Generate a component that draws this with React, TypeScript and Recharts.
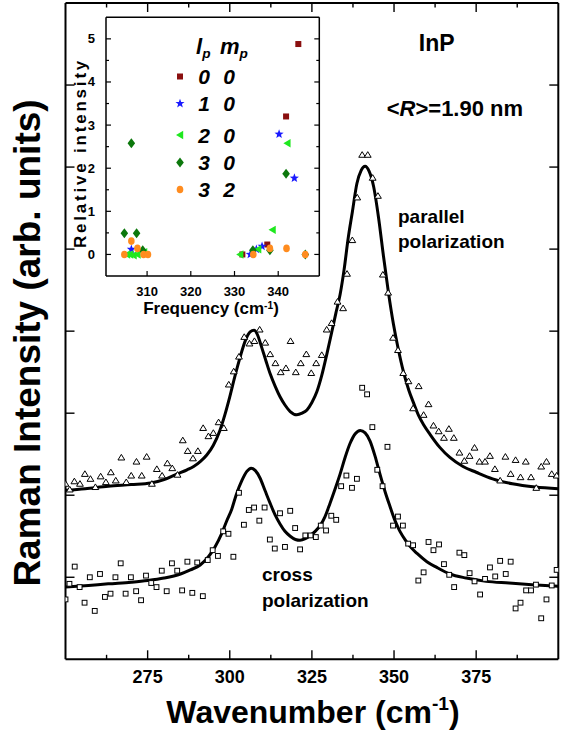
import React from 'react';
import { ComposedChart, Line, Scatter, XAxis, YAxis } from 'recharts';

const SANS = '"Liberation Sans", Arial, Helvetica, sans-serif';
const NARROW = '"Liberation Sans Narrow", "Arial Narrow", "Liberation Sans", sans-serif';

// ---- main panel: Raman spectra of InP dots ----
const waveTicks = [262.5, 275, 287.5, 300, 312.5, 325, 337.5, 350, 362.5, 375, 387.5];
const waveLabels = [275, 300, 325, 350, 375];
const intensityTicks = [1, 2, 3, 4, 5, 6, 7];

// parallel polarization, measured (triangles)
const parallelX = [
  250.0, 251.3, 252.7, 254.4, 255.9, 257.6, 259.1, 260.7, 262.3, 263.8, 265.3, 267.0, 268.5, 270.0, 271.6,
  273.2, 274.7, 276.3, 277.8, 279.4, 281.0, 282.5, 284.1, 285.7, 287.2, 288.8, 290.3, 291.9, 293.5, 295.0,
  296.6, 298.2, 299.7, 301.2, 302.8, 304.4, 306.0, 307.5, 309.1, 310.8, 312.3, 313.9, 315.5, 317.1, 318.5,
  320.1, 321.6, 323.3, 324.8, 326.3, 328.0, 329.5, 331.0, 332.8, 334.5, 335.7, 337.3, 338.8, 340.3, 342.0,
  343.5, 345.1, 346.6, 348.2, 349.7, 351.2, 352.8, 354.4, 355.8, 357.5, 359.0, 360.5, 362.0, 363.6, 365.2,
  366.7, 368.2, 369.9, 371.4, 373.0, 374.5, 376.0, 377.7, 379.2, 380.7, 382.3, 383.9, 385.5, 387.0, 388.5,
  390.1, 391.7, 393.3, 394.8, 396.4, 398.0, 399.5,
];
const parallelY = [
  2.14, 2.07, 2.17, 2.14, 2.26, 2.2, 2.1, 2.23, 2.16, 2.28, 2.18, 2.46, 2.16, 2.24, 2.41,
  2.24, 2.47, 2.14, 2.32, 2.24, 2.39, 2.33, 2.25, 2.67, 2.54, 2.45, 2.54, 2.82, 2.72, 2.76,
  2.89, 2.82, 3.35, 3.51, 3.69, 3.93, 3.85, 3.88, 4.02, 3.86, 3.72, 3.61, 3.5, 3.55, 3.88,
  3.5, 3.61, 3.72, 3.49, 3.61, 3.71, 4.02, 4.1, 4.36, 4.28, 4.7, 5.11, 5.63, 6.15, 6.15,
  5.87, 5.65, 4.69, 4.47, 3.92, 3.77, 3.49, 3.39, 3.06, 3.33, 2.98, 3.11, 2.85, 2.78, 2.7,
  2.81, 2.7, 2.52, 2.42, 2.48, 2.58, 2.41, 2.41, 2.48, 2.32, 2.18, 2.47, 2.26, 2.43, 2.22,
  2.41, 2.22, 2.09, 2.35, 2.41, 2.26, 2.24,
];

// parallel polarization, fit
const parallelFitX = [
  250, 256, 263, 270, 276, 280, 284, 287, 289, 291, 293, 295, 297, 298.5, 300, 301.5, 303.2, 304.8, 306.2,
  307.4, 308.5, 309.5, 311, 312.3, 313.8, 315.3, 316.8, 318.4, 320.4, 322, 323.5, 325, 326.5, 328, 329.6,
  331, 332.3, 333.6, 334.8, 336, 337.3, 338.7, 340, 341.2, 342.4, 343.8, 345.3, 346.8, 348.3, 349.8, 351.3,
  352.9, 354.5, 356, 357.5, 359, 361, 364, 367, 371, 375, 380, 386, 393, 400,
];
const parallelFitY = [
  2.06, 2.08, 2.11, 2.13, 2.15, 2.19, 2.26, 2.31, 2.35, 2.41, 2.49, 2.61, 2.79, 2.98, 3.2, 3.44, 3.69, 3.89, 3.99,
  4.01, 3.95, 3.83, 3.64, 3.48, 3.33, 3.2, 3.1, 3.02, 2.98, 3.0, 3.04, 3.13, 3.26, 3.46, 3.73,
  3.98, 4.22, 4.45, 4.75, 5.12, 5.45, 5.8, 5.96, 6.01, 5.95, 5.76, 5.38, 4.91, 4.47, 4.09, 3.78,
  3.5, 3.28, 3.12, 2.97, 2.86, 2.74, 2.58, 2.46, 2.35, 2.28, 2.2, 2.14, 2.1, 2.08,
];

// cross polarization, measured (squares)
const crossX = [
  250.0, 251.2, 252.8, 254.3, 255.8, 257.4, 258.9, 260.5, 262.0, 263.7, 265.2, 266.8, 268.3, 269.9, 271.5,
  273.0, 274.5, 276.1, 277.7, 279.3, 280.8, 282.4, 284.0, 285.5, 287.1, 288.6, 290.1, 291.8, 293.3, 294.8,
  296.4, 298.0, 299.6, 301.1, 302.8, 304.3, 305.8, 307.4, 309.0, 310.6, 312.2, 313.7, 315.3, 316.8, 318.4,
  319.9, 321.4, 323.0, 324.6, 326.2, 327.7, 329.3, 330.9, 332.4, 333.9, 335.5, 337.2, 338.7, 340.3, 341.8,
  343.4, 344.9, 346.5, 348.0, 349.7, 351.2, 352.7, 354.3, 355.8, 357.4, 359.0, 360.5, 362.0, 363.7, 365.2,
  366.8, 368.3, 369.9, 371.4, 373.0, 374.5, 376.2, 377.7, 379.2, 380.8, 382.3, 384.0, 385.5, 387.0, 388.5,
  390.2, 391.7, 393.2, 394.8, 396.4, 398.0, 399.5,
];
const crossY = [
  0.73, 0.92, 1.13, 0.88, 0.69, 1.0, 0.59, 1.04, 0.76, 0.8, 1.0, 1.17, 0.8, 1.0, 0.83,
  0.72, 1.02, 0.93, 0.88, 1.08, 0.83, 1.17, 1.08, 0.84, 1.19, 0.81, 1.18, 0.77, 1.21, 1.33,
  1.26, 1.56, 1.53, 1.25, 2.03, 1.64, 1.82, 1.85, 1.69, 1.85, 1.46, 1.35, 1.78, 1.37, 1.81,
  1.6, 1.34, 1.51, 1.51, 1.49, 1.63, 1.57, 1.75, 1.7, 2.11, 2.24, 2.09, 2.2, 3.31, 3.23,
  2.83, 2.31, 2.11, 2.59, 1.63, 1.74, 1.63, 1.41, 1.39, 0.96, 1.06, 1.43, 1.33, 1.4, 1.16,
  1.03, 0.88, 1.3, 1.27, 1.05, 0.95, 0.79, 0.98, 1.12, 1.01, 1.2, 1.04, 1.19, 0.62, 0.69,
  0.84, 0.84, 0.91, 0.5, 0.73, 0.9, 1.09,
];

// cross polarization, fit
const crossFitX = [
  250, 257, 263, 270, 275, 280, 285, 288, 291, 293.5, 295.5, 297.5, 299, 300.6, 302, 303.7, 305.2, 306.5,
  307.8, 309.2, 310.7, 312.3, 313.8, 315.3, 316.8, 318.4, 320, 321.4, 323, 324.5, 326, 327.5, 329, 330.5,
  332, 333.6, 335.1, 336.6, 338.2, 339.7, 341.2, 342.7, 344.2, 345.7, 347.3, 348.8, 350.3, 351.8, 353.5,
  355, 357, 360, 363, 367, 372, 378, 385, 392, 400,
];
const crossFitY = [
  0.88, 0.9, 0.92, 0.94, 0.96, 0.99, 1.04, 1.09, 1.15, 1.25, 1.37, 1.53, 1.68, 1.83, 2.01, 2.18, 2.29, 2.33,
  2.3, 2.21, 2.06, 1.9, 1.76, 1.65, 1.56, 1.5, 1.46, 1.45, 1.47, 1.51, 1.56, 1.63, 1.74, 1.9,
  2.07, 2.26, 2.46, 2.63, 2.75, 2.79, 2.76, 2.66, 2.48, 2.26, 2.04, 1.86, 1.69, 1.56, 1.45,
  1.37, 1.29, 1.19, 1.12, 1.04, 0.99, 0.95, 0.93, 0.91, 0.89,
];

// ---- inset: relative intensity of confined modes ----
const freqTicks = [310, 320, 330, 340];
const relTicks = [0, 0.5, 1, 1.5, 2, 2.5, 3, 3.5, 4, 4.5, 5];
const relLabels = [0, 1, 2, 3, 4, 5];

const mode00X = [331.8, 337.5, 341.8, 344.6];
const mode00Y = [0, 0.23, 3.2, 4.88];
const mode10X = [306.4, 333.6, 335.0, 336.3, 340.2, 343.7];
const mode10Y = [0.12, 0, 0.12, 0.19, 2.79, 1.77];
const mode20X = [305.4, 306.1, 306.9, 307.8, 309.3, 331.3, 335.4, 338.7, 342.1];
const mode20Y = [0, 0, -0.02, 0, 0.05, 0, 0.12, 0.57, 2.58];
const mode30X = [304.8, 306.4, 307.6, 309.0, 334.2, 338.1, 341.8, 346.2];
const mode30Y = [0.49, 2.58, 0.49, 0.1, 0.1, 0.1, 1.87, 0];
const mode32X = [304.8, 306.4, 307.8, 309.2, 310.2, 334.3, 338.1, 341.9, 346.2];
const mode32Y = [0, 0.31, 0.14, 0, 0, 0, 0.14, 0.14, 0];

const modeRows = [
  { l: '0', m: '0', mark: 'square' },
  { l: '1', m: '0', mark: 'star' },
  { l: '2', m: '0', mark: 'triangle' },
  { l: '3', m: '0', mark: 'diamond' },
  { l: '3', m: '2', mark: 'circle' },
];
const modeRowY = [76.5, 103.5, 135, 162.5, 189.5];

const toPoints = (xs: number[], ys: number[]) => xs.map((x, i) => ({ x, y: ys[i] }));

const DARK_RED = '#8a0f0f';
const BLUE = '#1a1aff';
const LIME = '#1fe81f';
const DARK_GREEN = '#0c780c';
const ORANGE = '#ff8c1f';

function starPath(cx: number, cy: number, ro: number, ri: number) {
  let d = '';
  for (let k = 0; k < 10; k++) {
    const r = k % 2 === 0 ? ro : ri;
    const a = -Math.PI / 2 + (k * Math.PI) / 5;
    d += `${k === 0 ? 'M' : 'L'}${(cx + r * Math.cos(a)).toFixed(2)},${(cy + r * Math.sin(a)).toFixed(2)}`;
  }
  return d + 'Z';
}

const marks: Record<string, (cx: number, cy: number) => React.ReactElement> = {
  square: (cx, cy) => <rect x={cx - 3} y={cy - 3} width={6} height={6} fill={DARK_RED} />,
  star: (cx, cy) => <path d={starPath(cx, cy, 4.8, 2)} fill={BLUE} />,
  triangle: (cx, cy) => <path d={`M${cx - 4},${cy}L${cx + 3.2},${cy - 4.2}L${cx + 3.2},${cy + 4.2}Z`} fill={LIME} />,
  diamond: (cx, cy) => <path d={`M${cx},${cy - 5}L${cx + 3.8},${cy}L${cx},${cy + 5}L${cx - 3.8},${cy}Z`} fill={DARK_GREEN} />,
  circle: (cx, cy) => <ellipse cx={cx} cy={cy} rx={3.3} ry={3.8} fill={ORANGE} />,
};

const OpenTriangle = (p: any) => (
  <path
    d={`M${p.cx},${p.cy - 3.1}L${p.cx + 3.4},${p.cy + 2.5}L${p.cx - 3.4},${p.cy + 2.5}Z`}
    fill="#fff"
    stroke="#000"
    strokeWidth={1}
  />
);
const OpenSquare = (p: any) => (
  <rect x={p.cx - 2.4} y={p.cy - 2.4} width={4.8} height={4.8} fill="#fff" stroke="#000" strokeWidth={1} />
);

const frame = { stroke: '#000', strokeWidth: 2 };

// tick renderers: tickSize/tickMargin are 0, so x/y is the axis line itself
const BottomTick = (p: any) => {
  const major = waveLabels.includes(p.payload.value);
  return (
    <g>
      <line x1={p.x} x2={p.x} y1={p.y} y2={p.y - (major ? 9 : 4.5)} stroke="#000" strokeWidth={1.4} />
      {major && (
        <text x={p.x} y={p.y + 24} textAnchor="middle" fontFamily={SANS} fontWeight={700} fontSize={18} fill="#000">
          {p.payload.value}
        </text>
      )}
    </g>
  );
};
const TopTick = (p: any) => {
  const major = waveLabels.includes(p.payload.value);
  return <line x1={p.x} x2={p.x} y1={p.y} y2={p.y + (major ? 9 : 4.5)} stroke="#000" strokeWidth={1.4} />;
};
const LeftTick = (p: any) => <line x1={p.x} x2={p.x + 9} y1={p.y} y2={p.y} stroke="#000" strokeWidth={1.4} />;
const RightTick = (p: any) => <line x1={p.x} x2={p.x - 9} y1={p.y} y2={p.y} stroke="#000" strokeWidth={1.4} />;

const InsetBottomTick = (p: any) => (
  <g>
    <line x1={p.x} x2={p.x} y1={p.y} y2={p.y - 5} stroke="#000" strokeWidth={1.2} />
    <text x={p.x} y={p.y + 20} textAnchor="middle" fontFamily={NARROW} fontWeight={700} fontSize={13} fill="#000">
      {p.payload.value}
    </text>
  </g>
);
const InsetLeftTick = (p: any) => {
  const major = relLabels.includes(p.payload.value);
  return (
    <g>
      <line x1={p.x} x2={p.x + (major ? 5 : 3)} y1={p.y} y2={p.y} stroke="#000" strokeWidth={1.2} />
      {major && (
        <text x={p.x - 11} y={p.y + 4.5} textAnchor="end" fontFamily={NARROW} fontWeight={700} fontSize={13} fill="#000">
          {p.payload.value}
        </text>
      )}
    </g>
  );
};
const InsetRightTick = (p: any) => {
  const major = relLabels.includes(p.payload.value);
  return <line x1={p.x} x2={p.x - (major ? 5 : 3)} y1={p.y} y2={p.y} stroke="#000" strokeWidth={1.2} />;
};

function Txt(props: {
  x: number;
  base: number;
  size: number;
  anchor?: 'start' | 'middle';
  family?: string;
  italic?: boolean;
  children: React.ReactNode;
}) {
  const { x, base, size, anchor = 'start', family = SANS, italic, children } = props;
  return (
    <div
      style={{
        position: 'absolute',
        left: x,
        top: base - 0.8465 * size,
        fontSize: size,
        lineHeight: `${size}px`,
        fontFamily: family,
        fontWeight: 700,
        fontStyle: italic ? 'italic' : 'normal',
        whiteSpace: 'nowrap',
        color: '#000',
        transform: anchor === 'middle' ? 'translateX(-50%)' : undefined,
      }}
    >
      {children}
    </div>
  );
}

const sup = { fontSize: '0.6em', position: 'relative' as const, top: '-0.65em' };
const supLow = { fontSize: '0.6em', position: 'relative' as const, top: '-0.5em' };
const sub = { fontSize: '0.62em', position: 'relative' as const, top: '0.3em' };

export default function App() {
  const parallel = toPoints(parallelX, parallelY);
  const parallelFit = toPoints(parallelFitX, parallelFitY);
  const cross = toPoints(crossX, crossY);
  const crossFit = toPoints(crossFitX, crossFitY);

  return (
    <div style={{ position: 'absolute', left: 0, top: 0, width: 567, height: 733, background: '#fff' }}>
      <div style={{ position: 'absolute', left: 0, top: 0 }}>
        <ComposedChart width={567} height={733} margin={{ top: 2, right: 7.7, bottom: 13, left: 64.5 }}>
          <XAxis
            xAxisId="b"
            dataKey="x"
            type="number"
            domain={[250, 400]}
            allowDataOverflow
            ticks={waveTicks}
            interval={0}
            height={60.7}
            tickSize={0}
            tickMargin={0}
            tickLine={false}
            axisLine={frame}
            tick={BottomTick}
          />
          <XAxis
            xAxisId="t"
            orientation="top"
            dataKey="x"
            type="number"
            domain={[250, 400]}
            allowDataOverflow
            ticks={waveTicks}
            interval={0}
            height={1}
            tickSize={0}
            tickMargin={0}
            tickLine={false}
            axisLine={frame}
            tick={TopTick}
          />
          <YAxis
            yAxisId="l"
            dataKey="y"
            type="number"
            domain={[0, 8]}
            allowDataOverflow
            ticks={intensityTicks}
            interval={0}
            width={1}
            tickSize={0}
            tickMargin={0}
            tickLine={false}
            axisLine={frame}
            tick={LeftTick}
          />
          <YAxis
            yAxisId="r"
            orientation="right"
            dataKey="y"
            type="number"
            domain={[0, 8]}
            allowDataOverflow
            ticks={intensityTicks}
            interval={0}
            width={1}
            tickSize={0}
            tickMargin={0}
            tickLine={false}
            axisLine={frame}
            tick={RightTick}
          />
          <Line xAxisId="b" yAxisId="l" data={parallelFit} dataKey="y" type="monotone" stroke="#000" strokeWidth={3} dot={false} activeDot={false} isAnimationActive={false} />
          <Line xAxisId="b" yAxisId="l" data={crossFit} dataKey="y" type="monotone" stroke="#000" strokeWidth={3} dot={false} activeDot={false} isAnimationActive={false} />
          <Scatter xAxisId="b" yAxisId="l" data={parallel} dataKey="y" shape={OpenTriangle} isAnimationActive={false} />
          <Scatter xAxisId="b" yAxisId="l" data={cross} dataKey="y" shape={OpenSquare} isAnimationActive={false} />
          {/* keep top/right axes bound to the same scales */}
          <Scatter xAxisId="t" yAxisId="r" data={[]} dataKey="y" isAnimationActive={false} />
        </ComposedChart>
      </div>

      <div style={{ position: 'absolute', left: 0, top: 0 }}>
        <ComposedChart width={330} height={320} margin={{ top: 16.3, right: 9.7, bottom: 43, left: 105 }}>
          <XAxis
            xAxisId="b"
            dataKey="x"
            type="number"
            domain={[300.6, 349.4]}
            allowDataOverflow
            ticks={freqTicks}
            interval={0}
            height={1}
            tickSize={0}
            tickMargin={0}
            tickLine={false}
            axisLine={{ stroke: '#000', strokeWidth: 1.5 }}
            tick={InsetBottomTick}
          />
          <XAxis
            xAxisId="t"
            orientation="top"
            dataKey="x"
            type="number"
            domain={[300.6, 349.4]}
            allowDataOverflow
            ticks={freqTicks}
            height={1}
            tickLine={false}
            tick={false}
            axisLine={{ stroke: '#000', strokeWidth: 1.5 }}
          />
          <YAxis
            yAxisId="l"
            dataKey="y"
            type="number"
            domain={[-0.5, 5.5]}
            allowDataOverflow
            ticks={relTicks}
            interval={0}
            width={1}
            tickSize={0}
            tickMargin={0}
            tickLine={false}
            axisLine={{ stroke: '#000', strokeWidth: 1.5 }}
            tick={InsetLeftTick}
          />
          <YAxis
            yAxisId="r"
            orientation="right"
            dataKey="y"
            type="number"
            domain={[-0.5, 5.5]}
            allowDataOverflow
            ticks={relTicks}
            interval={0}
            width={1}
            tickSize={0}
            tickMargin={0}
            tickLine={false}
            axisLine={{ stroke: '#000', strokeWidth: 1.5 }}
            tick={InsetRightTick}
          />
          <Scatter xAxisId="b" yAxisId="l" data={toPoints(mode00X, mode00Y)} dataKey="y" shape={(p: any) => marks.square(p.cx, p.cy)} isAnimationActive={false} />
          <Scatter xAxisId="b" yAxisId="l" data={toPoints(mode10X, mode10Y)} dataKey="y" shape={(p: any) => marks.star(p.cx, p.cy)} isAnimationActive={false} />
          <Scatter xAxisId="b" yAxisId="l" data={toPoints(mode20X, mode20Y)} dataKey="y" shape={(p: any) => marks.triangle(p.cx, p.cy)} isAnimationActive={false} />
          <Scatter xAxisId="b" yAxisId="l" data={toPoints(mode30X, mode30Y)} dataKey="y" shape={(p: any) => marks.diamond(p.cx, p.cy)} isAnimationActive={false} />
          <Scatter xAxisId="b" yAxisId="l" data={toPoints(mode32X, mode32Y)} dataKey="y" shape={(p: any) => marks.circle(p.cx, p.cy)} isAnimationActive={false} />
          <Scatter xAxisId="t" yAxisId="r" data={[]} dataKey="y" isAnimationActive={false} />
        </ComposedChart>
      </div>

      {/* inset legend markers */}
      <svg width={567} height={733} style={{ position: 'absolute', left: 0, top: 0, pointerEvents: 'none' }}>
        {modeRows.map((r, i) => (
          <g key={i}>{marks[r.mark](180, modeRowY[i])}</g>
        ))}
      </svg>

      {/* main panel text */}
      <div
        style={{
          position: 'absolute',
          left: 27,
          top: 343,
          transform: 'translate(-50%, -50%) rotate(-90deg)',
          fontFamily: SANS,
          fontWeight: 700,
          fontSize: 37,
          lineHeight: '37px',
          whiteSpace: 'nowrap',
        }}
      >
        Raman Intensity (arb. units)
      </div>
      <Txt x={313} base={722.7} size={32} anchor="middle">
        Wavenumber (cm<span style={sup}>-1</span>)
      </Txt>
      <Txt x={436.7} base={51.7} size={23} anchor="middle">InP</Txt>
      <Txt x={386.7} base={116.7} size={22}>
        &lt;<i>R</i>&gt;=1.90 nm
      </Txt>
      <Txt x={398} base={223.3} size={19}>parallel</Txt>
      <Txt x={398} base={248.3} size={19}>polarization</Txt>
      <Txt x={262} base={581.5} size={19}>cross</Txt>
      <Txt x={262} base={606.7} size={19}>polarization</Txt>

      {/* inset text */}
      <div
        style={{
          position: 'absolute',
          left: 80,
          top: 153,
          transform: 'translate(-50%, -50%) rotate(-90deg)',
          fontFamily: NARROW,
          fontWeight: 700,
          fontSize: 17,
          lineHeight: '17px',
          letterSpacing: 2.8,
          whiteSpace: 'nowrap',
        }}
      >
        Relative intensity
      </div>
      <Txt x={211} base={314} size={17} anchor="middle" family={NARROW}>
        Frequency (cm<span style={supLow}>-1</span>)
      </Txt>
      <Txt x={196} base={55} size={22} family={NARROW} italic>
        l<span style={sub}>p</span>
      </Txt>
      <Txt x={220} base={55} size={22} family={NARROW} italic>
        m<span style={sub}>p</span>
      </Txt>
      {modeRows.map((r, i) => (
        <React.Fragment key={i}>
          <Txt x={204} base={modeRowY[i] + 7.3} size={21} anchor="middle" family={NARROW} italic>
            {r.l}
          </Txt>
          <Txt x={229} base={modeRowY[i] + 7.3} size={21} anchor="middle" family={NARROW} italic>
            {r.m}
          </Txt>
        </React.Fragment>
      ))}
    </div>
  );
}
